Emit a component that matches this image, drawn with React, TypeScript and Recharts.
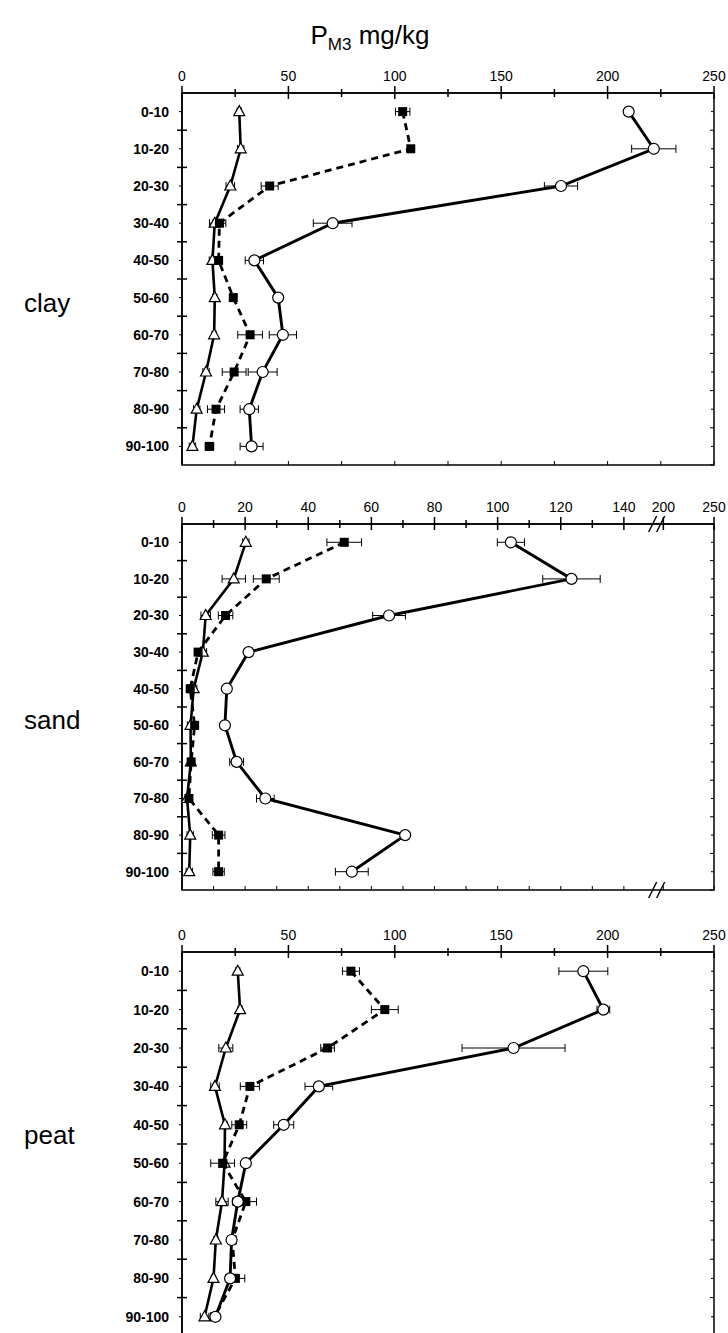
import React from 'react'
import { LineChart, Line, XAxis, YAxis, ErrorBar, ReferenceArea } from 'recharts'

const FONT = 'Arial, "Liberation Sans", Helvetica, sans-serif'

const DEPTHS = ['0-10', '10-20', '20-30', '30-40', '40-50', '50-60', '60-70', '70-80', '80-90', '90-100']

// clay
const CLAY_TRI = [26.9, 27.6, 22.7, 15.4, 14.3, 15.4, 15.1, 11.3, 6.9, 4.9]
const CLAY_TRI_ERR = [1, 1.5, 2, 2.5, 1.5, 1, 1, 1.5, 1.5, 1.5]
const CLAY_SQ = [103.7, 107.5, 41.2, 17.6, 17.2, 24.1, 32.0, 24.5, 16.0, 12.9]
const CLAY_SQ_ERR = [3.4, 1.5, 4, 3, 1.5, 1, 5.8, 5.6, 4, 2]
const CLAY_CIRC = [209.9, 221.7, 178.1, 70.8, 34.0, 45.2, 47.4, 37.9, 31.6, 32.7]
const CLAY_CIRC_ERR = [1, 10.4, 7.8, 9.1, 4.3, 1, 6.4, 6.8, 4.3, 5.4]

// sand
const SAND_TRI = [20.2, 16.4, 7.5, 6.6, 3.7, 2.7, 2.8, 1.6, 2.6, 2.3]
const SAND_TRI_ERR = [1, 3.7, 1.5, 1.2, 1, 1, 0.5, 0.5, 1, 1]
const SAND_SQ = [51.4, 26.7, 13.8, 5.1, 2.6, 4.0, 2.9, 2.2, 11.6, 11.6]
const SAND_SQ_ERR = [5.5, 4.1, 2.3, 1, 0.5, 1, 0.5, 0.5, 2, 1.8]
const SAND_CIRC = [104.2, 123.4, 65.6, 21.1, 14.2, 13.6, 17.3, 26.4, 70.7, 53.8]
const SAND_CIRC_ERR = [4.3, 9.1, 5.2, 1, 0.5, 0.5, 2.2, 2.8, 0.5, 5.2]

// peat
const PEAT_TRI = [26.2, 27.3, 20.6, 15.5, 20.2, 20.0, 18.8, 15.9, 14.8, 10.6]
const PEAT_TRI_ERR = [1, 1, 3.3, 2, 1, 1, 2.9, 1, 1, 2]
const PEAT_SQ = [79.4, 95.3, 68.4, 31.9, 26.9, 19.1, 30.0, 23.6, 25.1, 15.2]
const PEAT_SQ_ERR = [4, 6.3, 3.2, 4.5, 3.5, 5.6, 5, 1.5, 4.4, 1.5]
const PEAT_CIRC = [188.6, 198.0, 155.8, 64.3, 47.8, 30.0, 26.2, 23.3, 22.6, 15.7]
const PEAT_CIRC_ERR = [11.5, 3, 24.2, 6.5, 4.7, 1, 2.5, 1, 2, 1]

// x ticks
const TICKS_250 = [0, 25, 50, 75, 100, 125, 150, 175, 200, 225, 250]
const SAND_TICK_LABELS = [0, 10, 20, 30, 40, 50, 60, 70, 80, 90, 100, 110, 120, 130, 140, 200, 250]

// broken sand axis: 0-150 linear, then 200..250 squeezed in after the break
const SAND_BREAK = 150.7
const SAND_MAX = 168.55
const sandPos = (v: number) => (v <= 150 ? v : 152.5 + (v - 200) * ((SAND_MAX - 152.5) / 50))

const W = 728
const PLOT_L = 182
const PLOT_R = 714
const AX_H = 30
const YW = 60
const MT = 10

function build(tri: number[], triErr: number[], sq: number[], sqErr: number[], circ: number[], circErr: number[]) {
  return DEPTHS.map((depth, i) => ({
    depth, tri: tri[i], triErr: triErr[i], sq: sq[i], sqErr: sqErr[i], circ: circ[i], circErr: circErr[i],
  }))
}

const TriDot = ({ cx, cy }: any) => (
  <polygon points={`${cx},${cy - 6} ${cx - 5.5},${cy + 4} ${cx + 5.5},${cy + 4}`} fill="#fff" stroke="#000" strokeWidth={1.2} />
)
const SqDot = ({ cx, cy }: any) => <rect x={cx - 4.5} y={cy - 4.5} width={9} height={9} fill="#000" />
const CircDot = ({ cx, cy }: any) => <circle cx={cx} cy={cy} r={5.5} fill="#fff" stroke="#000" strokeWidth={1.2} />

type PanelProps = {
  top: number
  height: number
  data: any[]
  domainMax: number
  ticks: number[]
  isMajor: (v: number) => boolean
  labelOf: (v: number) => string
  breakAt?: number
  bottomTicks?: boolean
}

function Panel({ top, height, data, domainMax, ticks, isMajor, labelOf, breakAt, bottomTicks = true }: PanelProps) {
  const band = height / DEPTHS.length
  const bottomY = MT + AX_H + height

  const xTick = ({ x, y, payload }: any) => {
    const v = payload.value
    if (breakAt !== undefined && v === breakAt) {
      const slash = (yy: number, dx: number) => (
        <line x1={x + dx - 5} y1={yy + 8} x2={x + dx + 3} y2={yy - 8} stroke="#000" strokeWidth={1.5} />
      )
      return (
        <g>
          {slash(y, -4)}{slash(y, 4)}
          {slash(bottomY, -4)}{slash(bottomY, 4)}
        </g>
      )
    }
    const major = isMajor(v)
    return (
      <g>
        <line x1={x} x2={x} y1={y - (major ? 7 : 4)} y2={y + (major ? 6 : 4)} stroke="#000" strokeWidth={1.5} />
        {bottomTicks && <line x1={x} x2={x} y1={bottomY} y2={bottomY - 4} stroke="#000" strokeWidth={1} />}
        {major && (
          <text x={x} y={y - 12} textAnchor="middle" fontSize={14} fontFamily={FONT} fill="#000">{labelOf(v)}</text>
        )}
      </g>
    )
  }

  const yTick = ({ x, y, payload, index }: any) => (
    <g>
      <line x1={x - 3} x2={x} y1={y} y2={y} stroke="#000" strokeWidth={1} />
      {index > 0 && <line x1={x - 5} x2={x + 5} y1={y - band / 2} y2={y - band / 2} stroke="#000" strokeWidth={1.5} />}
      <line x1={PLOT_R - 3} x2={PLOT_R} y1={y} y2={y} stroke="#000" strokeWidth={1} />
      <line x1={PLOT_R - 4} x2={PLOT_R} y1={y + band / 2} y2={y + band / 2} stroke="#000" strokeWidth={1} />
      <text x={x - 13} y={y} dy="0.35em" textAnchor="end" fontSize={14} fontWeight="bold" fontFamily={FONT} fill="#000">
        {payload.value}
      </text>
    </g>
  )

  // frame spans the full plot, including the half-band padding above and below the rows
  const frame = ({ x, y, width, height: h }: any) => (
    <rect x={x} y={y - band / 2} width={width} height={h + band} fill="none" stroke="#000" strokeWidth={1.5} />
  )

  return (
    <div style={{ position: 'absolute', left: 0, top: top - MT - AX_H }}>
      <LineChart
        width={W}
        height={MT + AX_H + height + 10}
        data={data}
        layout="vertical"
        margin={{ top: MT, right: W - PLOT_R, left: PLOT_L - YW, bottom: 10 }}
      >
        <XAxis
          type="number"
          orientation="top"
          domain={[0, domainMax]}
          ticks={ticks}
          interval={0}
          tickSize={0}
          tickMargin={0}
          height={AX_H}
          allowDataOverflow
          axisLine={{ stroke: '#000', strokeWidth: 1.5 }}
          tick={xTick}
        />
        <YAxis
          type="category"
          dataKey="depth"
          width={YW}
          interval={0}
          tickSize={0}
          tickMargin={0}
          padding={{ top: band / 2, bottom: band / 2 }}
          axisLine={{ stroke: '#000', strokeWidth: 1.5 }}
          tick={yTick}
        />
        <ReferenceArea x1={0} x2={domainMax} ifOverflow="visible" shape={frame} />
        <Line dataKey="tri" type="linear" stroke="#000" strokeWidth={2.6} isAnimationActive={false} activeDot={false}
          dot={(p: any) => <TriDot key={`t${p.index}`} {...p} />}>
          <ErrorBar dataKey="triErr" direction="x" width={4} stroke="#000" strokeWidth={1} />
        </Line>
        <Line dataKey="sq" type="linear" stroke="#000" strokeWidth={2.8} strokeDasharray="7 5" isAnimationActive={false} activeDot={false}
          dot={(p: any) => <SqDot key={`s${p.index}`} {...p} />}>
          <ErrorBar dataKey="sqErr" direction="x" width={4} stroke="#000" strokeWidth={1} />
        </Line>
        <Line dataKey="circ" type="linear" stroke="#000" strokeWidth={2.9} isAnimationActive={false} activeDot={false}
          dot={(p: any) => <CircDot key={`c${p.index}`} {...p} />}>
          <ErrorBar dataKey="circErr" direction="x" width={4} stroke="#000" strokeWidth={1} />
        </Line>
      </LineChart>
    </div>
  )
}

const sideLabel = (text: string, y: number) => (
  <div style={{ position: 'absolute', left: 24, top: y - 15, fontSize: 26, lineHeight: '30px', fontFamily: FONT, color: '#000' }}>
    {text}
  </div>
)

export default function App() {
  const sandTicks = [...SAND_TICK_LABELS.map(sandPos)]
  sandTicks.splice(15, 0, SAND_BREAK)
  const sandLabel = (pos: number) => {
    const i = SAND_TICK_LABELS.findIndex((v) => Math.abs(sandPos(v) - pos) < 0.01)
    return i >= 0 ? String(SAND_TICK_LABELS[i]) : ''
  }
  return (
    <div style={{ position: 'absolute', left: 0, top: 0, width: W, height: 1333, background: '#fff', overflow: 'hidden' }}>
      <div style={{ position: 'absolute', left: 270, top: 20, width: 200, textAlign: 'center', fontSize: 26, fontFamily: FONT, lineHeight: '30px' }}>
        P<sub style={{ fontSize: 17 }}>M3</sub> mg/kg
      </div>
      {sideLabel('clay', 303)}
      {sideLabel('sand', 720)}
      {sideLabel('peat', 1135)}
      <Panel
        top={93.4}
        height={372}
        data={build(CLAY_TRI, CLAY_TRI_ERR, CLAY_SQ, CLAY_SQ_ERR, CLAY_CIRC, CLAY_CIRC_ERR)}
        domainMax={250}
        ticks={TICKS_250}
        isMajor={(v) => v % 50 === 0}
        labelOf={(v) => String(v)}
      />
      <Panel
        top={523.7}
        height={366}
        data={build(SAND_TRI, SAND_TRI_ERR, SAND_SQ, SAND_SQ_ERR, SAND_CIRC, SAND_CIRC_ERR)}
        domainMax={SAND_MAX}
        ticks={sandTicks}
        isMajor={(v) => v > 150 || Math.round(v) % 20 === 0}
        labelOf={sandLabel}
        breakAt={SAND_BREAK}
      />
      <Panel
        top={951.8}
        height={384}
        data={build(PEAT_TRI, PEAT_TRI_ERR, PEAT_SQ, PEAT_SQ_ERR, PEAT_CIRC, PEAT_CIRC_ERR)}
        domainMax={250}
        ticks={TICKS_250}
        isMajor={(v) => v % 50 === 0}
        labelOf={(v) => String(v)}
        bottomTicks={false}
      />
    </div>
  )
}
